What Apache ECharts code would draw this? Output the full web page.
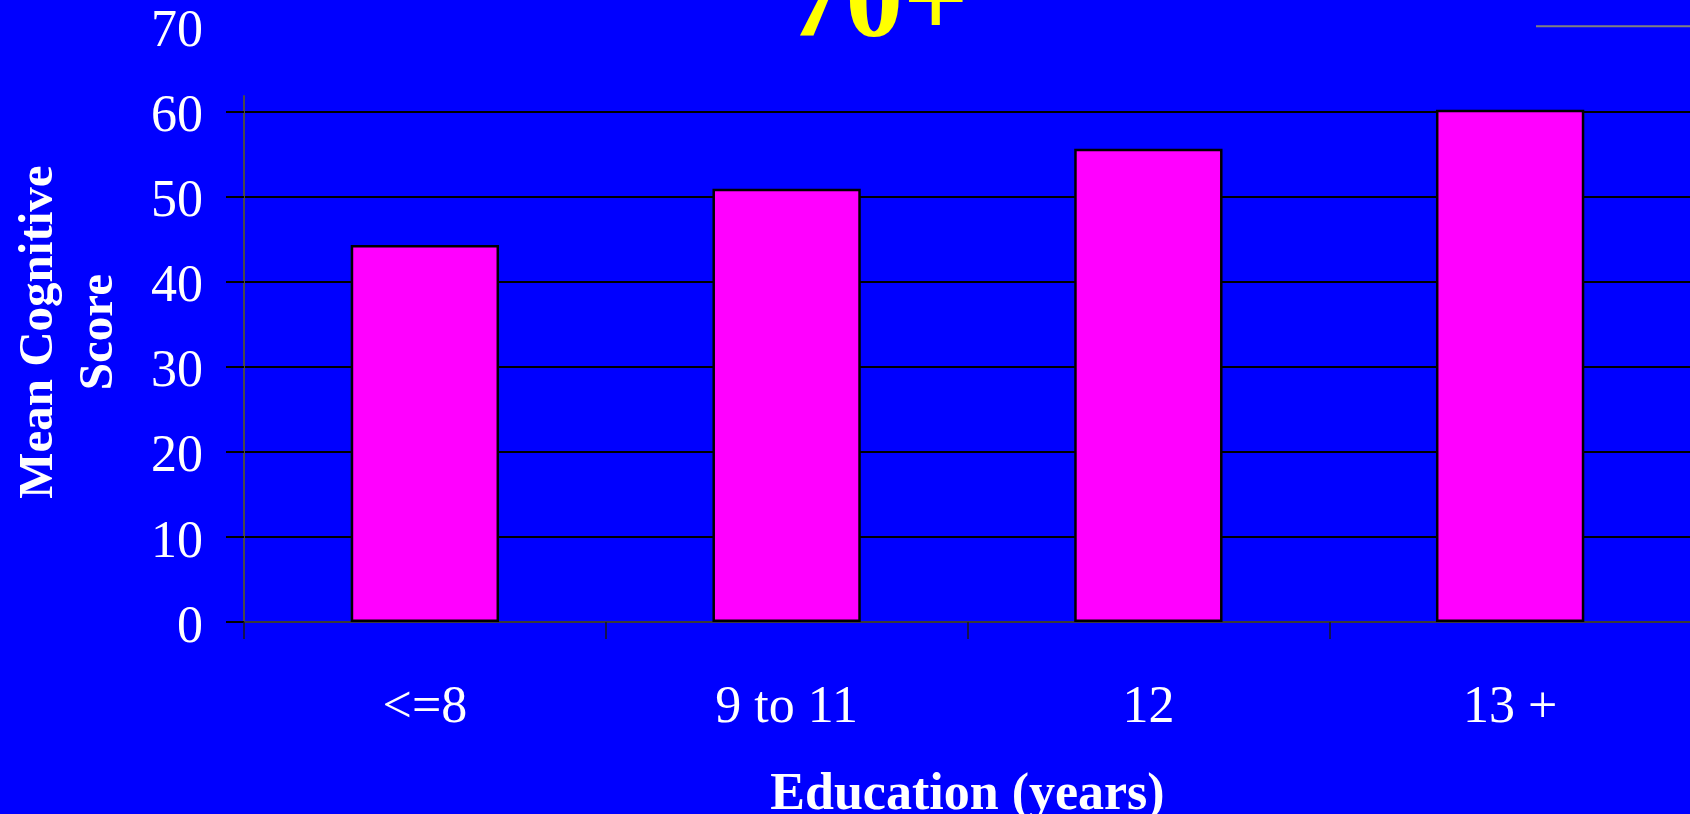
<!DOCTYPE html>
<html>
<head>
<meta charset="utf-8">
<script src="https://cdn.jsdelivr.net/npm/echarts@6/dist/echarts.min.js"></script>
<style>
html,body{margin:0;padding:0;background:#0000FF;}
#main{width:1690px;height:814px;}
</style>
</head>
<body>
<div id="main"></div>
<script>
const titleText = '70+';
const categories = ['<=8', '9 to 11', '12', '13 +'];
const scores = [44.3, 50.9, 55.6, 60.2];
const yMin = 0;
const yMax = 70;
const yStep = 10;
const tickValues = [0, 10, 20, 30, 40, 50, 60];
const xName = 'Education (years)';
const yName = 'Mean Cognitive\nScore';

const serif = "'Liberation Serif', 'DejaVu Serif', serif";
const chart = echarts.init(document.getElementById('main'), null, {renderer: 'canvas'});

// one colour per split line from min to max; the top (max) line is not drawn
const splitColors = [];
for (let v = yMin; v <= yMax; v += yStep) {
  splitColors.push(tickValues.indexOf(v) >= 0 ? '#000000' : 'rgba(0,0,0,0)');
}

const option = {
  backgroundColor: '#0000FF',
  animation: false,
  title: {
    text: titleText,
    left: 788,
    top: -51,
    padding: 0,
    textStyle: {color: '#FFFF00', fontSize: 115, fontWeight: 'bold', fontFamily: serif}
  },
  grid: [
    {left: 244, right: -1, top: 26.3, bottom: 192, containLabel: false, outerBoundsMode: 'none'},
    {left: 244, right: -1, top: 96, bottom: 192, containLabel: false, outerBoundsMode: 'none'}
  ],
  xAxis: [
    {
      type: 'category',
      gridIndex: 0,
      data: categories,
      boundaryGap: true,
      axisLine: {show: true, lineStyle: {color: '#3a3a3a', width: 2}},
      axisTick: {show: true, inside: false, length: 17, lineStyle: {color: '#1a1a1a', width: 1.5}},
      axisLabel: {color: '#FFFFFF', fontSize: 52, fontFamily: serif, margin: 60},
      name: xName,
      nameLocation: 'middle',
      nameGap: 148,
      nameTextStyle: {color: '#FFFFFF', fontSize: 52, fontWeight: 'bold', fontFamily: serif}
    },
    {type: 'category', gridIndex: 1, data: categories, show: false}
  ],
  yAxis: [
    {
      type: 'value',
      gridIndex: 0,
      min: yMin,
      max: yMax,
      interval: yStep,
      axisLine: {show: false},
      axisTick: {show: true, inside: false, length: 18, customValues: tickValues, lineStyle: {color: '#000000', width: 2}},
      splitLine: {show: true, lineStyle: {color: splitColors, width: 2}},
      axisLabel: {color: '#FFFFFF', fontSize: 52, fontFamily: serif, margin: 41, verticalAlign: 'top', lineHeight: 12},
      name: yName,
      nameLocation: 'middle',
      nameRotate: 90,
      nameGap: 115,
      nameTextStyle: {color: '#FFFFFF', fontSize: 49, fontWeight: 'bold', fontFamily: serif, lineHeight: 60, align: 'center', padding: [0, 16, 0, 0]}
    },
    {
      type: 'value',
      gridIndex: 1,
      min: 0,
      max: 1,
      axisLine: {show: true, onZero: false, lineStyle: {color: '#4a4a4a', width: 2}},
      axisTick: {show: false},
      axisLabel: {show: false},
      splitLine: {show: false}
    }
  ],
  series: [
    {
      type: 'bar',
      xAxisIndex: 0,
      yAxisIndex: 0,
      data: scores,
      barWidth: '41%',
      itemStyle: {color: '#FF00FF', borderColor: '#000000', borderWidth: 2.5},
      silent: true
    }
  ]
};
chart.setOption(option);

const yTop = chart.convertToPixel({yAxisIndex: 0}, yMax);
chart.setOption({
  graphic: [
    {type: 'line', silent: true, shape: {x1: 1536, y1: yTop, x2: 1690, y2: yTop}, style: {stroke: '#808080', lineWidth: 2}}
  ]
});
</script>
</body>
</html>
